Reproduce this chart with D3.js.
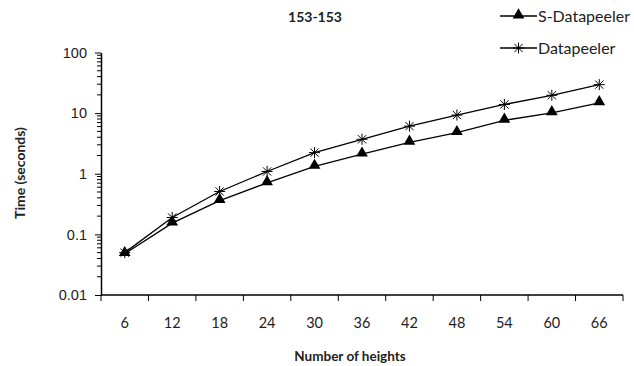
<!DOCTYPE html>
<html><head><meta charset="utf-8">
<script src="https://cdn.jsdelivr.net/npm/d3@7"></script>
<style>body{margin:0;background:#fff;} svg{display:block;font-family:Lato, "Open Sans", sans-serif;}</style>
</head><body>
<svg id="c" width="634" height="366"></svg>
<script>
const categories = [6, 12, 18, 24, 30, 36, 42, 48, 54, 60, 66];
const sDatapeeler = [0.048, 0.153, 0.36, 0.71, 1.32, 2.1, 3.3, 4.75, 7.6, 10.1, 14.8];
const datapeeler = [0.05, 0.19, 0.51, 1.09, 2.23, 3.7, 6.1, 9.3, 13.9, 19.7, 29.5];
const yTicks = [0.01, 0.1, 1, 10, 100];
const chartTitle = "153-153";
const xTitle = "Number of heights";
const yTitle = "Time (seconds)";

(function () {
const svg = d3.select("#c");
const pLeft = 101, pRight = 623, pTop = 52.5, pBottom = 295;

const x = d3.scaleBand().domain(categories).range([pLeft, pRight]);
const y = d3.scaleLog().domain([0.01, 100]).range([pBottom, pTop]);

// y axis: minor ticks
const minor = [];
for (let d = 0.01; d < 100; d *= 10) for (let k = 2; k <= 9; k++) minor.push(+(d * k).toPrecision(3));
const yg = svg.append("g").attr("transform", `translate(${pLeft},0)`);
yg.selectAll("line.minor").data(minor).join("line").attr("class", "minor")
  .attr("x1", -4).attr("x2", 0).attr("y1", d => y(d)).attr("y2", d => y(d))
  .attr("stroke", "#000").attr("stroke-width", 1);
yg.call(d3.axisLeft(y).tickValues(yTicks).tickFormat(d => String(d)).tickSize(6).tickSizeOuter(0));
yg.select(".domain").attr("stroke-width", 1.5);
yg.selectAll(".tick text").attr("font-size", 14.5).attr("fill", "#222").attr("dx", -5);

// x axis with ticks between categories
const xg = svg.append("g").attr("transform", `translate(0,${pBottom})`);
xg.append("line").attr("x1", pLeft).attr("x2", pRight).attr("stroke", "#000").attr("stroke-width", 1.5);
const bounds = categories.map(c => x(c)).concat([pRight]);
xg.selectAll("line.tk").data(bounds).join("line").attr("class", "tk")
  .attr("x1", d => d).attr("x2", d => d).attr("y1", 0).attr("y2", 6).attr("stroke", "#000");
xg.selectAll("text").data(categories).join("text")
  .attr("x", d => x(d) + x.bandwidth() / 2).attr("y", 33)
  .attr("text-anchor", "middle").attr("font-size", 14.5).attr("fill", "#222").text(d => d);

const cx = d => x(d) + x.bandwidth() / 2;
const line = d3.line().x((d, i) => cx(categories[i])).y(d => y(d));

const tri = d3.symbol().type(d3.symbolTriangle).size(60);
function star(g, px, py) {
  const r = 5.5;
  g.append("path").attr("d",
    `M${px - r},${py}L${px + r},${py}M${px},${py - r}L${px},${py + r}` +
    `M${px - r * 0.75},${py - r * 0.75}L${px + r * 0.75},${py + r * 0.75}M${px - r * 0.75},${py + r * 0.75}L${px + r * 0.75},${py - r * 0.75}`)
    .attr("stroke", "#000").attr("stroke-width", 1).attr("fill", "none");
}

svg.append("path").attr("d", line(datapeeler)).attr("fill", "none").attr("stroke", "#000").attr("stroke-width", 1.3);
svg.append("path").attr("d", line(sDatapeeler)).attr("fill", "none").attr("stroke", "#000").attr("stroke-width", 1.3);
const sg = svg.append("g");
datapeeler.forEach((v, i) => star(sg, cx(categories[i]), y(v)));
svg.selectAll("path.tri").data(sDatapeeler).join("path").attr("class", "tri")
  .attr("d", tri).attr("transform", (d, i) => `translate(${cx(categories[i])},${y(d) - 1})`).attr("fill", "#000");

// titles
svg.append("text").attr("x", 315).attr("y", 22).attr("text-anchor", "middle")
  .attr("font-size", 14).attr("font-weight", "bold").attr("fill", "#222").text(chartTitle);
svg.append("text").attr("x", 350).attr("y", 361).attr("text-anchor", "middle")
  .attr("font-size", 13.5).attr("font-weight", "bold").attr("fill", "#222").text(xTitle);
svg.append("text").attr("transform", "translate(25,173) rotate(-90)").attr("text-anchor", "middle")
  .attr("font-size", 14).attr("font-weight", "bold").attr("fill", "#222").text(yTitle);

// legend
const lg = svg.append("g");
[["S-Datapeeler", 16, "tri"], ["Datapeeler", 48, "star"]].forEach(([name, ly, m]) => {
  lg.append("line").attr("x1", 500).attr("x2", 537).attr("y1", ly).attr("y2", ly).attr("stroke", "#000").attr("stroke-width", 1.3);
  if (m === "tri") lg.append("path").attr("d", tri).attr("transform", `translate(518.5,${ly - 1})`).attr("fill", "#000");
  else star(lg, 518.5, ly);
  lg.append("text").attr("x", 538).attr("y", ly + 5.5).attr("font-size", 16).attr("fill", "#222").text(name);
});
})();
</script>
</body></html>
